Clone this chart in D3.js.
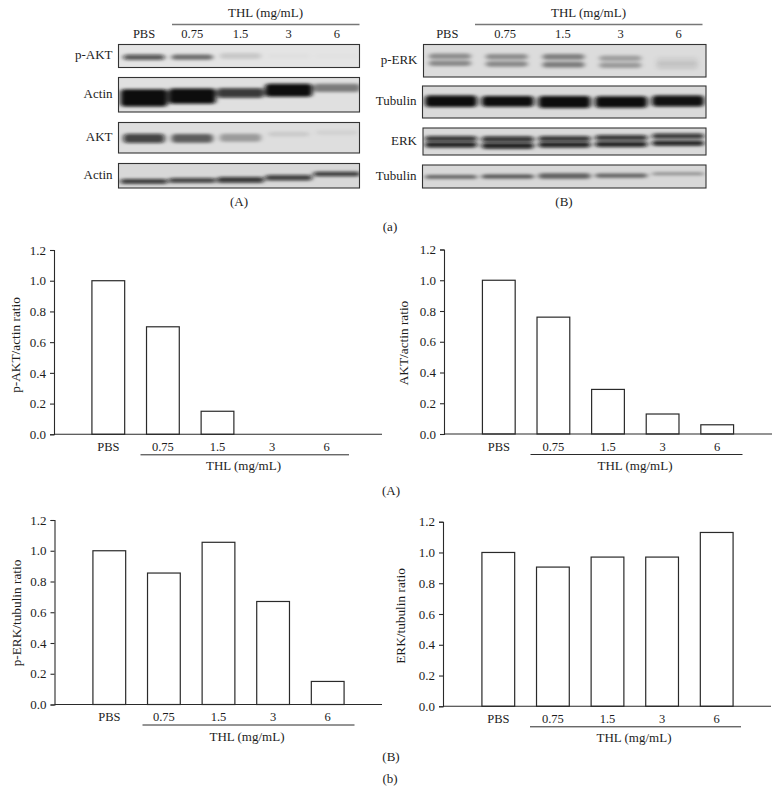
<!DOCTYPE html>
<html><head><meta charset="utf-8">
<script src="https://cdnjs.cloudflare.com/ajax/libs/d3/7.8.5/d3.min.js"></script>
<style>
html,body{margin:0;padding:0;background:#fff}
text{font-family:"Liberation Serif",serif;fill:#1c1c1c}
</style></head><body>
<svg id="c" width="780" height="806"></svg>
<script>
// categories
const doses = ["PBS","0.75","1.5","3","6"];
const yTicks = [0,0.2,0.4,0.6,0.8,1.0,1.2];
// bar chart values
const pAktRatio = [1.0,0.70,0.15,0,0];
const aktRatio = [1.0,0.76,0.29,0.13,0.06];
const pErkRatio = [1.0,0.855,1.055,0.67,0.15];
const erkRatio = [1.0,0.905,0.97,0.97,1.13];
// blot band density by lane (0..1)
const pAktDensity = [0.66,0.52,0.12,0.02,0.01];
const actin1Density = [1,1,0.8,1,0.45];
const aktDensity = [0.75,0.58,0.3,0.09,0.06];
const actin2Density = [0.8,0.76,0.8,0.76,0.8];
const pErkUpper = [0.36,0.36,0.42,0.28,0.05];
const pErkLower = [0.38,0.38,0.44,0.3,0.08];
const tubulin1Density = [1,1,1,1,0.98];
const erkUpper = [0.8,0.8,0.8,0.8,0.8];
const erkLower = [0.9,0.9,0.9,0.9,0.9];
const tubulin2Density = [0.55,0.62,0.56,0.55,0.34];
// band migration (0 top .. 1 bottom of the membrane strip)
const pAktMigration = [0.55,0.55,0.5,0.5,0.5];
const actin1Migration = [0.59,0.54,0.45,0.37,0.3];
const aktMigration = [0.52,0.52,0.5,0.38,0.33];
const actin2Migration = [0.73,0.69,0.67,0.58,0.43];
const pErkUpperMigration = [0.36,0.38,0.38,0.42,0.5];
const pErkLowerMigration = [0.58,0.6,0.62,0.64,0.65];
const tubulin1Migration = [0.48,0.48,0.5,0.5,0.47];
const erkUpperMigration = [0.4,0.42,0.4,0.36,0.3];
const erkLowerMigration = [0.62,0.66,0.62,0.6,0.56];
const tubulin2Migration = [0.52,0.5,0.48,0.46,0.38];
// band thickness relative to its strip
const pAktThickness = [0.24,0.22,0.26,0.2,0.2];
const actin1Thickness = [0.5,0.44,0.28,0.38,0.24];
const aktThickness = [0.3,0.28,0.26,0.16,0.16];
const actin2Thickness = [0.2,0.2,0.24,0.22,0.18];
const pErkThickness = [0.17,0.17,0.18,0.17,0.26];
const tubulin1Thickness = [0.36,0.34,0.38,0.36,0.34];
const erkThickness = [0.2,0.22,0.2,0.2,0.2];
const tubulin2Thickness = [0.16,0.18,0.24,0.18,0.14];

const svg = d3.select("#c");
const defs = svg.append("defs");
const blur = defs.append("filter").attr("id","bl").attr("x","-20%").attr("y","-100%").attr("width","140%").attr("height","300%");
blur.append("feGaussianBlur").attr("stdDeviation","2.4 1.8");
const ink = "#2a2a2a";

function label(x,y,t,anchor,size){
  return svg.append("text").attr("x",x).attr("y",y).attr("text-anchor",anchor||"middle").attr("font-size",size||13).text(t);
}

// ---------- blots ----------
function strip(id,name,x0,x1,y0,y1,bg,lane,bands){
  const laneY = d3.scaleLinear().domain([0,1]).range([y0,y1]);
  const clip = defs.append("clipPath").attr("id",id);
  clip.append("rect").attr("x",x0).attr("y",y0).attr("width",x1-x0).attr("height",y1-y0);
  svg.append("rect").attr("x",x0).attr("y",y0).attr("width",x1-x0).attr("height",y1-y0).attr("fill",bg);
  const g = svg.append("g").attr("clip-path",`url(#${id})`);
  const thick = d3.scaleLinear().domain([0,1]).range([0,y1-y0]);
  bands.forEach(b=>{
    g.append("g").attr("filter","url(#bl)").selectAll("rect").data(doses).join("rect")
      .attr("x",d=>lane(d)).attr("width",lane.bandwidth())
      .attr("y",(d,i)=>laneY(b.mig[i])-thick(b.th[i])/2)
      .attr("height",(d,i)=>thick(b.th[i]))
      .attr("rx",4)
      .attr("fill","#0a0a0a")
      .attr("opacity",(d,i)=>b.den[i]);
  });
  svg.append("rect").attr("x",x0).attr("y",y0).attr("width",x1-x0).attr("height",y1-y0)
    .attr("fill","none").attr("stroke","#333").attr("stroke-width",1.1);
  label(x0-6,(y0+y1)/2+3,name,"end",13);
}

function blotHeader(lane,x0,x1,thlX){
  doses.forEach(d=>label(lane(d)+lane.bandwidth()/2,38,d,"middle",12.5));
  label(thlX,17,"THL (mg/mL)");
  svg.append("line").attr("x1",x0).attr("x2",x1).attr("y1",24.5).attr("y2",24.5).attr("stroke","#777").attr("stroke-width",1.4);
}

const laneA = d3.scaleBand().domain(doses).range([119.9,361]).paddingInner(0.14).paddingOuter(0.07);
const laneAWide = d3.scaleBand().domain(doses).range([119.9,361]).paddingInner(0.02).paddingOuter(0.01);
blotHeader(laneA,172,359.5,265.5);
strip("a1","p-AKT",118.5,359.5,44.5,67.5,"#e4e4e4",laneA,[{den:pAktDensity,mig:pAktMigration,th:pAktThickness}]);
strip("a2","Actin",118.5,359.5,77.5,112,"#e0e0e0",laneAWide,[{den:actin1Density,mig:actin1Migration,th:actin1Thickness}]);
strip("a3","AKT",118.5,359.5,122.5,153,"#dedede",laneA,[{den:aktDensity,mig:aktMigration,th:aktThickness}]);
strip("a4","Actin",118.5,359.5,163.5,188,"#d8d8d8",laneAWide,[{den:actin2Density,mig:actin2Migration,th:actin2Thickness}]);
label(239,206,"(A)");

const laneB = d3.scaleBand().domain(doses).range([418.4,707.4]).paddingInner(0.1).paddingOuter(0.05);
const laneBBands = d3.scaleBand().domain(doses).range([422.6,706.4]).paddingInner(0.08).paddingOuter(0.04);
const laneBNarrow = d3.scaleBand().domain(doses).range([421.5,705.5]).paddingInner(0.26).paddingOuter(0.13);
blotHeader(laneB,475,702.5,588.5);
strip("b1","p-ERK",423.5,706,44.5,77,"#dcdcdc",laneBNarrow,[{den:pErkUpper,mig:pErkUpperMigration,th:pErkThickness},{den:pErkLower,mig:pErkLowerMigration,th:pErkThickness}]);
strip("b2","Tubulin",422.5,706,86,118,"#dadada",laneBBands,[{den:tubulin1Density,mig:tubulin1Migration,th:tubulin1Thickness}]);
strip("b3","ERK",423,706,128,155,"#dadada",laneBBands,[{den:erkUpper,mig:erkUpperMigration,th:erkThickness},{den:erkLower,mig:erkLowerMigration,th:erkThickness}]);
strip("b4","Tubulin",422.5,706,165,188,"#d8d8d8",laneBBands,[{den:tubulin2Density,mig:tubulin2Migration,th:tubulin2Thickness}]);
label(564,206,"(B)");
label(390,231,"(a)");

// ---------- bar charts ----------
function bars(values,cfg){
  const y = d3.scaleLinear().domain([0,1.2]).range([cfg.y0,cfg.y1]);
  const x = d3.scaleBand().domain(doses).range([cfg.bandStart,cfg.bandStart+273]).paddingInner(0.4).paddingOuter(0.2);
  const g = svg.append("g");
  g.selectAll("rect").data(values.map((v,i)=>({v,d:doses[i]})).filter(o=>o.v>0)).join("rect")
    .attr("x",o=>x(o.d)).attr("width",x.bandwidth())
    .attr("y",o=>y(o.v)).attr("height",o=>y(0)-y(o.v))
    .attr("fill","#fff").attr("stroke",ink).attr("stroke-width",1.2);
  const ay = g.append("g").attr("transform",`translate(${cfg.axisX0},0)`)
    .call(d3.axisLeft(y).tickValues(yTicks).tickFormat(d3.format(".1f")).tickSizeOuter(0).tickSize(4).tickPadding(4));
  ay.selectAll("path,line").attr("stroke",ink).attr("stroke-width",1.1);
  ay.selectAll("text").attr("font-size",13).attr("font-family","Liberation Serif").attr("fill","#1c1c1c");
  const ax = g.append("g").attr("transform",`translate(0,${cfg.y0})`)
    .call(d3.axisBottom(x).tickSize(0).tickPadding(8));
  ax.select(".domain").remove();
  ax.selectAll("text").attr("font-size",12.5).attr("font-family","Liberation Serif").attr("fill","#1c1c1c");
  g.append("line").attr("x1",cfg.axisX0).attr("x2",cfg.axisX1).attr("y1",y(0)).attr("y2",y(0)).attr("stroke",ink).attr("stroke-width",1.1);
  g.append("line").attr("x1",cfg.thl0).attr("x2",cfg.thl1).attr("y1",cfg.y0+20.5).attr("y2",cfg.y0+20.5).attr("stroke",ink).attr("stroke-width",1);
  label(cfg.thlX,cfg.y0+36,"THL (mg/mL)");
  svg.append("text").attr("transform",`translate(${cfg.titleX},${cfg.titleY}) rotate(-90)`)
    .attr("text-anchor","middle").attr("font-size",13.3).text(cfg.title);
}
bars(pAktRatio,{y0:434.3,y1:250,axisX0:54,axisX1:382,bandStart:81,thl0:140.5,thl1:349,thlX:243.5,title:"p-AKT/actin ratio",titleX:20,titleY:345});
bars(aktRatio,{y0:434,y1:249.5,axisX0:444,axisX1:772,bandStart:471.5,thl0:530.5,thl1:742.5,thlX:635,title:"AKT/actin ratio",titleX:408,titleY:343});
bars(pErkRatio,{y0:704.5,y1:520,axisX0:54.5,axisX1:382,bandStart:82,thl0:142.5,thl1:354.5,thlX:247,title:"p-ERK/tubulin ratio",titleX:21,titleY:613});
bars(erkRatio,{y0:706.3,y1:521.7,axisX0:443,axisX1:771,bandStart:471,thl0:530,thl1:741,thlX:634,title:"ERK/tubulin ratio",titleX:405,titleY:616});
label(391,495,"(A)");
label(391,761,"(B)");
label(390,783,"(b)");
</script>
</body></html>
